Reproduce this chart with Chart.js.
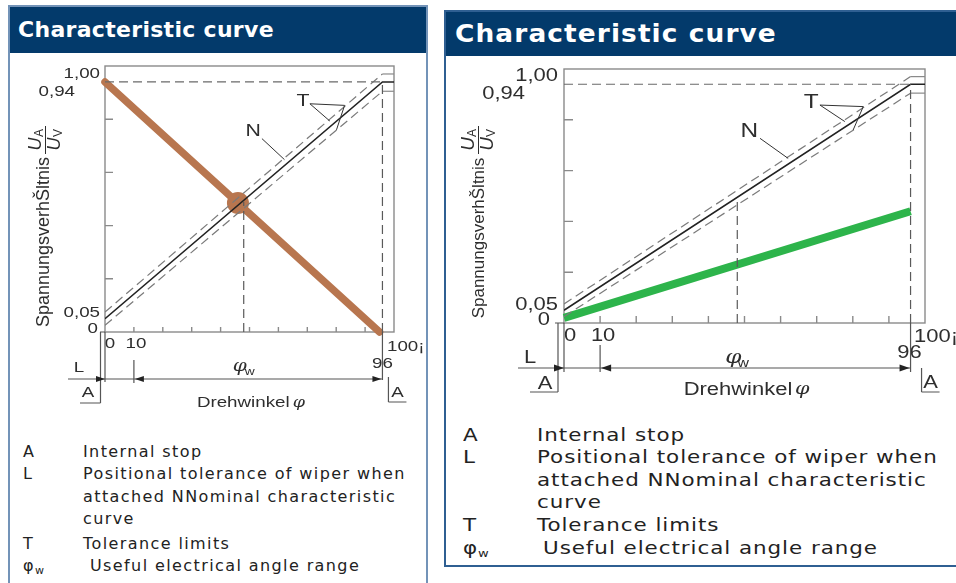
<!DOCTYPE html>
<html>
<head>
<meta charset="utf-8">
<script src="https://cdn.jsdelivr.net/npm/chart.js@4.4.1/dist/chart.umd.min.js"></script>
<style>
  body { margin:0; width:956px; height:583px; overflow:hidden; background:#fff; position:relative; font-family:'DejaVu Sans', sans-serif; }
  .panel { position:absolute; box-sizing:border-box; background:#fff; }
  .p1 { left:8px; top:5px; width:420px; height:620px; border:2px solid #7393b8; }
  .p2 { left:444px; top:10px; width:540px; height:557px; border:2px solid #2f5f92; }
  .hd { background:#033a6b; color:#fff; font-weight:bold; white-space:nowrap; overflow:hidden; }
  .p1 .hd { height:46px; line-height:46px; padding-left:8px; font-size:22px; letter-spacing:0.3px; }
  .p2 .hd { height:44px; line-height:44px; padding-left:9px; font-size:24px; letter-spacing:1px; }
  .p2 .hd span { display:inline-block; transform:scaleX(1.1); transform-origin:left center; }
  canvas { position:absolute; }
  .lg { position:absolute; color:#222; white-space:nowrap; line-height:20px; }
  .lg1 { font-size:16px; letter-spacing:1.4px; }
  .lg2 { font-size:18px; letter-spacing:0.8px; transform:scaleX(1.19); transform-origin:left center; }
  .lg sub { font-size:11px; vertical-align:-3px; letter-spacing:0; }
</style>
</head>
<body>
<div class="panel p1"><div class="hd">Characteristic curve</div></div>
<div class="panel p2"><div class="hd"><span>Characteristic curve</span></div></div>

<canvas id="c1" width="416" height="360" style="left:10px;top:55px"></canvas>
<canvas id="c2" width="510" height="350" style="left:446px;top:58px"></canvas>

<!-- key lists -->
<div class="lg lg1" style="left:23px;top:442px">A</div><div class="lg lg1" style="left:83px;top:442px">Internal stop</div>
<div class="lg lg1" style="left:23px;top:464px">L</div><div class="lg lg1" style="left:83px;top:464px">Positional tolerance of wiper when</div>
<div class="lg lg1" style="left:83px;top:487px">attached NNominal characteristic</div>
<div class="lg lg1" style="left:83px;top:509px">curve</div>
<div class="lg lg1" style="left:23px;top:534px">T</div><div class="lg lg1" style="left:83px;top:534px">Tolerance limits</div>
<div class="lg lg1" style="left:23px;top:556px">φ<sub>w</sub></div><div class="lg lg1" style="left:90px;top:556px">Useful electrical angle range</div>

<div class="lg lg2" style="left:463px;top:425px">A</div><div class="lg lg2" style="left:537px;top:425px">Internal stop</div>
<div class="lg lg2" style="left:463px;top:447px">L</div><div class="lg lg2" style="left:537px;top:447px">Positional tolerance of wiper when</div>
<div class="lg lg2" style="left:537px;top:470px">attached NNominal characteristic</div>
<div class="lg lg2" style="left:537px;top:492px">curve</div>
<div class="lg lg2" style="left:463px;top:515px">T</div><div class="lg lg2" style="left:537px;top:515px">Tolerance limits</div>
<div class="lg lg2" style="left:463px;top:538px">φ<sub>w</sub></div><div class="lg lg2" style="left:543px;top:538px">Useful electrical angle range</div>

<script>
// nominal characteristic N and tolerance band T
const nomX = [0, 96, 100];
const nomY = [0.05, 0.94, 0.94];
const tolUpX = [0, 96];
const tolUpY = [0.075, 0.97];
const tolLoX = [0, 96];
const tolLoY = [0.025, 0.905];
const stopUpX = [96, 100];
const stopUpY = [0.97, 0.97];
const stopLoX = [96, 100];
const stopLoY = [0.905, 0.905];
// dashed guides
const refX = [0, 96];
const refY = [0.94, 0.94];
const midX = [48, 48];
const midY = [0, 0.49];
const endX = [96, 96];
const endY = [0, 0.94];
// overlays
const orangeX = [0, 95];
const orangeY = [0.94, 0];
const markX = [46];
const markY = [0.485];
const greenX = [0, 96];
const greenY = [0.02, 0.44];
// ticks
const yTickVals = [1, 0.94, 0.05, 0];
const yTickText = ['1,00', '0,94', '0,05', '0'];
const yMinor = [0.2, 0.4, 0.6, 0.8];
const xTickVals = [0, 10, 100];
const xTickText = ['0', '10', '100¡'];
const xMinor = [10, 20, 30, 40, 50, 60, 70, 80, 90];
// angle marks below the axis: stop, start of φw, end of φw
const rangeVals = [0, 10, 96];
// callouts (data coords)
const labelN = [51.3, 0.753];
const labelT = [68.5, 0.869];
const leadN = [[54.3, 0.727], [62.1, 0.648]];
const leadT1 = [[70.9, 0.858], [82.9, 0.852], [80.1, 0.76]];
const leadT2 = [[70.9, 0.858], [77.8, 0.793]];

const TXT = '#2e2e2e';
const LINE = '#555';

const pts = (xs, ys) => xs.map((v, i) => ({ x: v, y: ys[i] }));
const ln = (xs, ys, color, w, dash, extra) => Object.assign({
  data: pts(xs, ys), showLine: true, borderColor: color, borderWidth: w,
  borderDash: dash || [], pointRadius: 0, fill: false
}, extra || {});

function txt(ctx, s, x, y, align, sx) {
  ctx.save();
  ctx.translate(x, y);
  ctx.scale(sx, 1);
  ctx.textAlign = align;
  ctx.textBaseline = 'middle';
  ctx.fillText(s, 0, 0);
  ctx.restore();
}
function head(ctx, tip, yy, dir, len, hw) {
  ctx.beginPath();
  ctx.moveTo(tip, yy);
  ctx.lineTo(tip - dir * len, yy - hw);
  ctx.lineTo(tip - dir * len, yy + hw);
  ctx.closePath();
  ctx.fill();
}
function seg(ctx, a, b, c, d) { ctx.moveTo(a, b); ctx.lineTo(c, d); }

function deco(g) {
  return {
    id: 'deco',
    beforeDatasetsDraw(chart) {
      const { ctx, scales: { x, y } } = chart;
      const X0 = x.getPixelForValue(0), Y0 = y.getPixelForValue(0);
      const X100 = x.getPixelForValue(100), Y1 = y.getPixelForValue(1);
      ctx.save();
      ctx.strokeStyle = '#8a8a8a';
      ctx.lineWidth = 1.4;
      ctx.strokeRect(X0, Y1, X100 - X0, Y0 - Y1);
      ctx.beginPath();
      yMinor.forEach(v => { const p = y.getPixelForValue(v); seg(ctx, X0, p, X0 + g.yTick, p); });
      xMinor.forEach(v => { const p = x.getPixelForValue(v); seg(ctx, p, Y0, p, Y0 - g.xTick); });
      ctx.stroke();
      ctx.restore();
    },
    afterDatasetsDraw(chart) {
      const { ctx, scales: { x, y } } = chart;
      const X0 = x.getPixelForValue(0), Y0 = y.getPixelForValue(0);
      const px = v => x.getPixelForValue(v), py = v => y.getPixelForValue(v);
      const xa = px(rangeVals[0]), xb = px(rangeVals[1]), xc = px(rangeVals[2]);
      ctx.save();
      ctx.fillStyle = TXT;
      ctx.font = g.fs + 'px "Liberation Sans", Arial, sans-serif';

      // tick labels
      yTickVals.forEach((v, i) => txt(ctx, yTickText[i], X0 + g.yLab[i][0], py(v) + g.yLab[i][1], 'right', g.sx));
      xTickVals.forEach((v, i) => txt(ctx, xTickText[i], px(v) + g.xLab[i][0], Y0 + g.xLab[i][1], g.xLab[i][2], g.sx));
      txt(ctx, String(rangeVals[2]), xc + g.l96[0], Y0 + g.l96[1], 'center', g.sx);

      // lines under the axis
      ctx.strokeStyle = LINE;
      ctx.lineWidth = 1.2;
      ctx.beginPath();
      seg(ctx, X0 + g.axStart, Y0, X0, Y0);
      seg(ctx, xa, Y0, xa, Y0 + g.v0);
      seg(ctx, xb, Y0 + g.v10[0], xb, Y0 + g.v10[1]);
      seg(ctx, xc, Y0, xc, Y0 + g.v96);
      // internal stops A
      seg(ctx, X0 + g.stopL[0], Y0, X0 + g.stopL[0], Y0 + g.stopL[1]);
      seg(ctx, X0 + g.stopL[0], Y0 + g.stopL[1], X0 + g.stopL[2], Y0 + g.stopL[1]);
      seg(ctx, xc + g.stopR[0], Y0 + g.stopR[1], xc + g.stopR[0], Y0 + g.stopR[2]);
      seg(ctx, xc + g.stopR[0], Y0 + g.stopR[2], xc + g.stopR[3], Y0 + g.stopR[2]);
      // dimension line
      const ay = Y0 + g.arrY;
      seg(ctx, X0 + g.arrX, ay, xc, ay);
      ctx.stroke();
      ctx.fillStyle = '#222';
      head(ctx, xa, ay, 1, g.ah[0], g.ah[1]);
      head(ctx, xb + 1, ay, -1, g.ah[0], g.ah[1]);
      head(ctx, xc - 1, ay, 1, g.ah[0], g.ah[1]);

      ctx.fillStyle = TXT;
      txt(ctx, 'L', X0 + g.lL[0], Y0 + g.lL[1], 'center', g.sx);
      txt(ctx, 'A', X0 + g.lA1[0], Y0 + g.lA1[1], 'center', g.sx);
      txt(ctx, 'A', xc + g.lA2[0], Y0 + g.lA2[1], 'center', g.sx);

      // φw
      const phx = px(48), phy = Y0 + g.lPhi;
      ctx.font = 'italic ' + (g.fs + 1) + 'px "DejaVu Serif", serif';
      txt(ctx, 'φ', phx - 4, phy, 'center', g.sx);
      ctx.font = Math.round(g.fs * 0.7) + 'px "Liberation Sans", Arial, sans-serif';
      txt(ctx, 'w', phx + 6, phy + 5, 'center', g.sx);

      // x title
      ctx.font = g.fs + 'px "Liberation Sans", Arial, sans-serif';
      const t1 = 'Drehwinkel ';
      const w1 = ctx.measureText(t1).width * g.sx;
      const cx = px(50) + 2, cy = Y0 + g.lDw;
      const left = cx - (w1 + 9 * g.sx) / 2;
      txt(ctx, t1, left, cy, 'left', g.sx);
      ctx.font = 'italic ' + (g.fs - 1) + 'px "DejaVu Serif", serif';
      txt(ctx, 'φ', left + w1 + 4, cy, 'center', g.sx);

      // y title (rotated)
      ctx.save();
      ctx.translate(X0 + g.yt[0], Y0 + g.yt[1]);
      ctx.rotate(-Math.PI / 2);
      ctx.font = g.ytFs + 'px "Liberation Sans", Arial, sans-serif';
      ctx.textAlign = 'center';
      ctx.textBaseline = 'middle';
      ctx.fillText('SpannungsverhŠltnis', 0, 0);
      ctx.restore();
      // fraction U_A / U_V
      ctx.save();
      ctx.translate(X0 + g.fr[0], Y0 + g.fr[1]);
      ctx.rotate(-Math.PI / 2);
      ctx.textBaseline = 'middle';
      ctx.textAlign = 'center';
      ctx.font = 'italic ' + g.frFs + 'px "Liberation Sans", Arial, sans-serif';
      ctx.fillText('U', -4, -9);
      ctx.fillText('U', -4, 10);
      ctx.font = Math.round(g.frFs * 0.65) + 'px "Liberation Sans", Arial, sans-serif';
      ctx.fillText('A', 7, -5);
      ctx.fillText('V', 7, 14);
      ctx.strokeStyle = TXT;
      ctx.lineWidth = 1;
      ctx.beginPath();
      seg(ctx, -14, 0.5, 14, 0.5);
      ctx.stroke();
      ctx.restore();

      // callouts N and T
      ctx.font = (g.fs + 2) + 'px "Liberation Sans", Arial, sans-serif';
      txt(ctx, 'N', px(labelN[0]), py(labelN[1]), 'center', g.sx);
      txt(ctx, 'T', px(labelT[0]), py(labelT[1]), 'center', g.sx);
      ctx.strokeStyle = '#333';
      ctx.lineWidth = 1;
      [leadN, leadT1, leadT2].forEach(L => {
        ctx.beginPath();
        L.forEach((p, i) => i ? ctx.lineTo(px(p[0]), py(p[1])) : ctx.moveTo(px(p[0]), py(p[1])));
        ctx.stroke();
      });
      ctx.restore();
    }
  };
}

function baseSets() {
  return [
    ln(refX, refY, '#6a6a6a', 1.2, [9, 5]),
    ln(midX, midY, '#5a5a5a', 1.2, [9, 5]),
    ln(endX, endY, '#5a5a5a', 1.2, [9, 5]),
    ln(tolUpX, tolUpY, '#7a7a7a', 1.2, [9, 5]),
    ln(tolLoX, tolLoY, '#7a7a7a', 1.2, [9, 5]),
    ln(stopUpX, stopUpY, '#8a8a8a', 1.2),
    ln(stopLoX, stopLoY, '#8a8a8a', 1.2),
    ln(nomX, nomY, '#222', 1.6)
  ];
}

function opts(pad) {
  return {
    responsive: false, animation: false,
    layout: { padding: pad },
    plugins: { legend: { display: false }, tooltip: { enabled: false } },
    scales: {
      x: { type: 'linear', min: 0, max: 100, display: false },
      y: { type: 'linear', min: 0, max: 1, display: false }
    },
    elements: { line: { tension: 0 } }
  };
}

const G1 = {
  fs: 15, sx: 1.25, yTick: 8, xTick: 5,
  yLab: [[-5, 7.5], [-30, 10], [-5, -6], [-7, -3]],
  xLab: [[5, 12, 'center'], [2, 12, 'center'], [-7, 15, 'left']],
  l96: [0, 32], lPhi: 35, lL: [-26, 36], arrY: 47, arrX: -37, ah: [9, 3],
  axStart: -5, v0: 50, v10: [28, 51], v96: 48,
  stopL: [-4.5, 71, -25], stopR: [6, 45, 70, 24],
  lA1: [-17, 61], lA2: [15, 61], lDw: 71,
  yt: [-61, -90], ytFs: 18, fr: [-60, -192], frFs: 18
};
const G2 = {
  fs: 18, sx: 1.22, yTick: 9, xTick: 7,
  yLab: [[-6, 7], [-39, 10], [-6, -5], [-14, -3]],
  xLab: [[6, 13, 'center'], [3, 13, 'center'], [-11, 14, 'left']],
  l96: [-1, 30], lPhi: 35, lL: [-34, 35], arrY: 45, arrX: -46, ah: [10, 3.5],
  axStart: -9, v0: 49, v10: [22, 49], v96: 49,
  stopL: [-6, 69, -34], stopR: [11, 45, 69, 29],
  lA1: [-19, 61], lA2: [20, 60], lDw: 67,
  yt: [-85, -85], ytFs: 17, fr: [-86, -183], frFs: 19
};

new Chart(document.getElementById('c1'), {
  type: 'scatter',
  data: {
    datasets: baseSets().concat([
      ln(orangeX, orangeY, '#b8764f', 7.5, null, { clip: false, borderCapStyle: 'round' }),
      { data: pts(markX, markY), pointRadius: 11, pointBackgroundColor: '#b8764f', pointBorderWidth: 0, clip: false }
    ])
  },
  options: opts({ left: 95, right: 32, top: 11, bottom: 83 }),
  plugins: [deco(G1)]
});

new Chart(document.getElementById('c2'), {
  type: 'scatter',
  data: {
    datasets: baseSets().concat([
      ln(greenX, greenY, '#2db44b', 8, null, { clip: false })
    ])
  },
  options: opts({ left: 118, right: 31, top: 11, bottom: 85 }),
  plugins: [deco(G2)]
});
</script>
</body>
</html>
